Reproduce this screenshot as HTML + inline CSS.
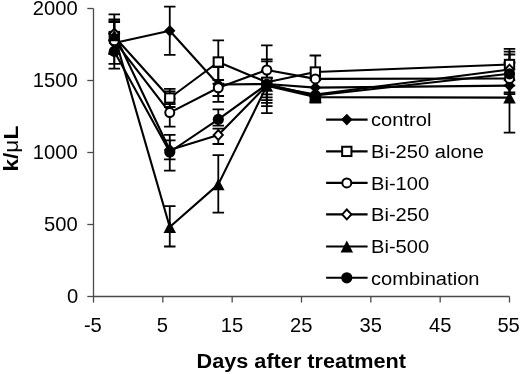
<!DOCTYPE html>
<html><head><meta charset="utf-8"><style>
html,body{margin:0;padding:0;background:#fff;width:520px;height:374px;overflow:hidden}
svg{display:block;will-change:transform}
text{font-family:"Liberation Sans",sans-serif;fill:#000}
</style></head><body>
<svg width="520" height="374" viewBox="0 0 520 374" font-family="Liberation Sans, sans-serif">
<rect width="520" height="374" fill="#fff"/>
<path d="M93.5 8.5V296.5H509.5" stroke="#4a4a4a" stroke-width="1.3" fill="none"/><path d="M87.3 296.50H93.5" stroke="#4a4a4a" stroke-width="1.3"/><path d="M87.3 224.50H93.5" stroke="#4a4a4a" stroke-width="1.3"/><path d="M87.3 152.50H93.5" stroke="#4a4a4a" stroke-width="1.3"/><path d="M87.3 80.50H93.5" stroke="#4a4a4a" stroke-width="1.3"/><path d="M87.3 8.50H93.5" stroke="#4a4a4a" stroke-width="1.3"/><path d="M93.50 296.5V302.6" stroke="#4a4a4a" stroke-width="1.3"/><path d="M162.83 296.5V302.6" stroke="#4a4a4a" stroke-width="1.3"/><path d="M232.17 296.5V302.6" stroke="#4a4a4a" stroke-width="1.3"/><path d="M301.50 296.5V302.6" stroke="#4a4a4a" stroke-width="1.3"/><path d="M370.83 296.5V302.6" stroke="#4a4a4a" stroke-width="1.3"/><path d="M440.17 296.5V302.6" stroke="#4a4a4a" stroke-width="1.3"/><path d="M509.50 296.5V302.6" stroke="#4a4a4a" stroke-width="1.3"/>
<path d="M114.30 22.20V63.80M108.55 22.20H120.05M108.55 63.80H120.05" stroke="#000" stroke-width="1.8" fill="none"/><path d="M114.30 19.50V54.00M108.55 19.50H120.05M108.55 54.00H120.05" stroke="#000" stroke-width="1.8" fill="none"/><path d="M114.30 21.20V54.00M108.55 21.20H120.05M108.55 54.00H120.05" stroke="#000" stroke-width="1.8" fill="none"/><path d="M114.30 14.30V52.70M108.55 14.30H120.05M108.55 52.70H120.05" stroke="#000" stroke-width="1.8" fill="none"/><path d="M114.30 33.00V40.00M108.55 33.00H120.05M108.55 40.00H120.05" stroke="#000" stroke-width="1.8" fill="none"/><path d="M114.30 34.20V68.60M108.55 34.20H120.05M108.55 68.60H120.05" stroke="#000" stroke-width="1.8" fill="none"/><path d="M169.77 6.70V54.90M164.02 6.70H175.52M164.02 54.90H175.52" stroke="#000" stroke-width="1.8" fill="none"/><path d="M169.77 88.90V107.00M164.02 88.90H175.52M164.02 107.00H175.52" stroke="#000" stroke-width="1.8" fill="none"/><path d="M169.77 91.30V104.20M164.02 91.30H175.52M164.02 104.20H175.52" stroke="#000" stroke-width="1.8" fill="none"/><path d="M169.77 98.60V126.60M164.02 98.60H175.52M164.02 126.60H175.52" stroke="#000" stroke-width="1.8" fill="none"/><path d="M169.77 134.80V170.60M164.02 134.80H175.52M164.02 170.60H175.52" stroke="#000" stroke-width="1.8" fill="none"/><path d="M169.77 140.40V159.40M164.02 140.40H175.52M164.02 159.40H175.52" stroke="#000" stroke-width="1.8" fill="none"/><path d="M169.77 206.10V246.50M164.02 206.10H175.52M164.02 246.50H175.52" stroke="#000" stroke-width="1.8" fill="none"/><path d="M218.30 40.30V83.70M212.55 40.30H224.05M212.55 83.70H224.05" stroke="#000" stroke-width="1.8" fill="none"/><path d="M218.30 80.00V96.00M212.55 80.00H224.05M212.55 96.00H224.05" stroke="#000" stroke-width="1.8" fill="none"/><path d="M218.30 67.20V101.80M212.55 67.20H224.05M212.55 101.80H224.05" stroke="#000" stroke-width="1.8" fill="none"/><path d="M218.30 109.40V125.60M212.55 109.40H224.05M212.55 125.60H224.05" stroke="#000" stroke-width="1.8" fill="none"/><path d="M218.30 128.60V144.00M212.55 128.60H224.05M212.55 144.00H224.05" stroke="#000" stroke-width="1.8" fill="none"/><path d="M218.30 155.10V212.70M212.55 155.10H224.05M212.55 212.70H224.05" stroke="#000" stroke-width="1.8" fill="none"/><path d="M266.83 45.30V94.40M261.08 45.30H272.58M261.08 94.40H272.58" stroke="#000" stroke-width="1.8" fill="none"/><path d="M266.83 59.30V106.10M261.08 59.30H272.58M261.08 106.10H272.58" stroke="#000" stroke-width="1.8" fill="none"/><path d="M266.83 61.40V113.20M261.08 61.40H272.58M261.08 113.20H272.58" stroke="#000" stroke-width="1.8" fill="none"/><path d="M266.83 70.70V97.30M261.08 70.70H272.58M261.08 97.30H272.58" stroke="#000" stroke-width="1.8" fill="none"/><path d="M266.83 78.00V100.20M261.08 78.00H272.58M261.08 100.20H272.58" stroke="#000" stroke-width="1.8" fill="none"/><path d="M266.83 78.00V102.80M261.08 78.00H272.58M261.08 102.80H272.58" stroke="#000" stroke-width="1.8" fill="none"/><path d="M315.37 55.50V80.00M309.62 55.50H321.12M309.62 80.00H321.12" stroke="#000" stroke-width="1.8" fill="none"/><path d="M315.37 96.50V101.00M309.62 96.50H321.12M309.62 101.00H321.12" stroke="#000" stroke-width="1.8" fill="none"/><path d="M315.37 96.00V99.00M309.62 96.00H321.12M309.62 99.00H321.12" stroke="#000" stroke-width="1.8" fill="none"/><path d="M315.37 97.00V102.60M309.62 97.00H321.12M309.62 102.60H321.12" stroke="#000" stroke-width="1.8" fill="none"/><path d="M509.50 48.90V80.10M503.75 48.90H515.25M503.75 80.10H515.25" stroke="#000" stroke-width="1.8" fill="none"/><path d="M509.50 51.60V85.60M503.75 51.60H515.25M503.75 85.60H515.25" stroke="#000" stroke-width="1.8" fill="none"/><path d="M509.50 54.50V92.50M503.75 54.50H515.25M503.75 92.50H515.25" stroke="#000" stroke-width="1.8" fill="none"/><path d="M509.50 62.80V94.20M503.75 62.80H515.25M503.75 94.20H515.25" stroke="#000" stroke-width="1.8" fill="none"/><path d="M509.50 62.40V132.70M503.75 62.40H515.25M503.75 132.70H515.25" stroke="#000" stroke-width="1.8" fill="none"/><polyline points="114.30,43.00 169.77,30.80 218.30,84.50 266.83,84.00 315.37,87.60 509.50,85.60" stroke="#000" stroke-width="2.1" fill="none" stroke-linejoin="round"/><polyline points="114.30,36.50 169.77,98.00 218.30,62.00 266.83,82.30 315.37,72.00 509.50,64.50" stroke="#000" stroke-width="2.1" fill="none" stroke-linejoin="round"/><polyline points="114.30,40.70 169.77,112.60 218.30,87.80 266.83,70.00 315.37,78.90 509.50,78.50" stroke="#000" stroke-width="2.1" fill="none" stroke-linejoin="round"/><polyline points="114.30,33.50 169.77,150.00 218.30,135.00 266.83,85.50 315.37,94.50 509.50,69.50" stroke="#000" stroke-width="2.1" fill="none" stroke-linejoin="round"/><polyline points="114.30,35.40 169.77,227.00 218.30,184.40 266.83,85.80 315.37,97.10 509.50,97.60" stroke="#000" stroke-width="2.1" fill="none" stroke-linejoin="round"/><polyline points="114.30,51.40 169.77,152.00 218.30,119.40 266.83,84.30 315.37,95.50 509.50,73.80" stroke="#000" stroke-width="2.1" fill="none" stroke-linejoin="round"/><path d="M114.30 37.10L120.00 43.00L114.30 48.90L108.60 43.00Z" fill="#000"/><path d="M169.77 24.90L175.47 30.80L169.77 36.70L164.07 30.80Z" fill="#000"/><path d="M218.30 78.60L224.00 84.50L218.30 90.40L212.60 84.50Z" fill="#000"/><path d="M266.83 78.10L272.53 84.00L266.83 89.90L261.13 84.00Z" fill="#000"/><path d="M315.37 81.70L321.07 87.60L315.37 93.50L309.67 87.60Z" fill="#000"/><path d="M509.50 79.70L515.20 85.60L509.50 91.50L503.80 85.60Z" fill="#000"/><rect x="109.65" y="31.85" width="9.3" height="9.3" fill="#fff" stroke="#000" stroke-width="2"/><rect x="165.12" y="93.35" width="9.3" height="9.3" fill="#fff" stroke="#000" stroke-width="2"/><rect x="213.65" y="57.35" width="9.3" height="9.3" fill="#fff" stroke="#000" stroke-width="2"/><rect x="262.18" y="77.65" width="9.3" height="9.3" fill="#fff" stroke="#000" stroke-width="2"/><rect x="310.72" y="67.35" width="9.3" height="9.3" fill="#fff" stroke="#000" stroke-width="2"/><rect x="504.85" y="59.85" width="9.3" height="9.3" fill="#fff" stroke="#000" stroke-width="2"/><circle cx="114.30" cy="40.70" r="4.5" fill="#fff" stroke="#000" stroke-width="2"/><circle cx="169.77" cy="112.60" r="4.5" fill="#fff" stroke="#000" stroke-width="2"/><circle cx="218.30" cy="87.80" r="4.5" fill="#fff" stroke="#000" stroke-width="2"/><circle cx="266.83" cy="70.00" r="4.5" fill="#fff" stroke="#000" stroke-width="2"/><circle cx="315.37" cy="78.90" r="4.5" fill="#fff" stroke="#000" stroke-width="2"/><circle cx="509.50" cy="78.50" r="4.5" fill="#fff" stroke="#000" stroke-width="2"/><path d="M114.30 28.60L118.90 33.50L114.30 38.40L109.70 33.50Z" fill="#fff" stroke="#000" stroke-width="1.9" stroke-linejoin="miter"/><path d="M169.77 145.10L174.37 150.00L169.77 154.90L165.17 150.00Z" fill="#fff" stroke="#000" stroke-width="1.9" stroke-linejoin="miter"/><path d="M218.30 130.10L222.90 135.00L218.30 139.90L213.70 135.00Z" fill="#fff" stroke="#000" stroke-width="1.9" stroke-linejoin="miter"/><path d="M266.83 80.60L271.43 85.50L266.83 90.40L262.23 85.50Z" fill="#fff" stroke="#000" stroke-width="1.9" stroke-linejoin="miter"/><path d="M315.37 89.60L319.97 94.50L315.37 99.40L310.77 94.50Z" fill="#fff" stroke="#000" stroke-width="1.9" stroke-linejoin="miter"/><path d="M509.50 64.60L514.10 69.50L509.50 74.40L504.90 69.50Z" fill="#fff" stroke="#000" stroke-width="1.9" stroke-linejoin="miter"/><path d="M114.30 29.50L120.55 41.30L108.05 41.30Z" fill="#000"/><path d="M169.77 221.10L176.02 232.90L163.52 232.90Z" fill="#000"/><path d="M218.30 178.50L224.55 190.30L212.05 190.30Z" fill="#000"/><path d="M266.83 79.90L273.08 91.70L260.58 91.70Z" fill="#000"/><path d="M315.37 91.20L321.62 103.00L309.12 103.00Z" fill="#000"/><path d="M509.50 91.70L515.75 103.50L503.25 103.50Z" fill="#000"/><circle cx="114.30" cy="51.40" r="5.6" fill="#000"/><circle cx="169.77" cy="152.00" r="5.6" fill="#000"/><circle cx="218.30" cy="119.40" r="5.6" fill="#000"/><circle cx="266.83" cy="84.30" r="5.6" fill="#000"/><circle cx="315.37" cy="95.50" r="5.6" fill="#000"/><circle cx="509.50" cy="73.80" r="5.6" fill="#000"/>
<path d="M326.1 119.60H367.6" stroke="#000" stroke-width="2.1"/><path d="M346.80 113.70L352.50 119.60L346.80 125.50L341.10 119.60Z" fill="#000"/><text transform="translate(371.00 126.30) scale(1.06 1)" font-size="19.0" font-weight="normal">control</text><path d="M326.1 151.40H367.6" stroke="#000" stroke-width="2.1"/><rect x="342.15" y="146.75" width="9.3" height="9.3" fill="#fff" stroke="#000" stroke-width="2"/><text transform="translate(371.00 158.10) scale(1.06 1)" font-size="19.0" font-weight="normal">Bi-250 alone</text><path d="M326.1 182.90H367.6" stroke="#000" stroke-width="2.1"/><circle cx="346.80" cy="182.90" r="4.5" fill="#fff" stroke="#000" stroke-width="2"/><text transform="translate(371.00 189.60) scale(1.06 1)" font-size="19.0" font-weight="normal">Bi-100</text><path d="M326.1 214.40H367.6" stroke="#000" stroke-width="2.1"/><path d="M346.80 209.50L351.40 214.40L346.80 219.30L342.20 214.40Z" fill="#fff" stroke="#000" stroke-width="1.9" stroke-linejoin="miter"/><text transform="translate(371.00 221.10) scale(1.06 1)" font-size="19.0" font-weight="normal">Bi-250</text><path d="M326.1 246.50H367.6" stroke="#000" stroke-width="2.1"/><path d="M346.80 240.60L353.05 252.40L340.55 252.40Z" fill="#000"/><text transform="translate(371.00 253.20) scale(1.06 1)" font-size="19.0" font-weight="normal">Bi-500</text><path d="M326.1 277.80H367.6" stroke="#000" stroke-width="2.1"/><circle cx="346.80" cy="277.80" r="5.6" fill="#000"/><text transform="translate(371.00 284.50) scale(1.06 1)" font-size="19.0" font-weight="normal">combination</text>
<text transform="translate(66.96 303.15) scale(1.02 1)" font-size="19.8" font-weight="normal">0</text><text transform="translate(44.09 231.15) scale(1.02 1)" font-size="19.8" font-weight="normal">500</text><text transform="translate(32.86 159.15) scale(1.02 1)" font-size="19.8" font-weight="normal">1000</text><text transform="translate(32.86 87.15) scale(1.02 1)" font-size="19.8" font-weight="normal">1500</text><text transform="translate(32.86 15.15) scale(1.02 1)" font-size="19.8" font-weight="normal">2000</text><text transform="translate(83.90 331.90) scale(1.02 1)" font-size="19.8" font-weight="normal">-5</text><text transform="translate(156.85 331.90) scale(1.02 1)" font-size="19.8" font-weight="normal">5</text><text transform="translate(220.87 331.90) scale(1.02 1)" font-size="19.8" font-weight="normal">15</text><text transform="translate(290.03 331.90) scale(1.02 1)" font-size="19.8" font-weight="normal">25</text><text transform="translate(359.54 331.90) scale(1.02 1)" font-size="19.8" font-weight="normal">35</text><text transform="translate(429.03 331.90) scale(1.02 1)" font-size="19.8" font-weight="normal">45</text><text transform="translate(497.39 331.90) scale(1.02 1)" font-size="19.8" font-weight="normal">55</text>
<text transform="translate(196.55 367.50) scale(1.037 1)" font-size="20.9" font-weight="bold">Days after treatment</text><g transform="translate(17.9 170) rotate(-90)"><text transform="translate(-1.58 0) scale(1.135 1)" font-size="20.0" font-weight="bold">k/<tspan font-weight="normal">&#956;</tspan>L</text></g>
</svg>
</body></html>
